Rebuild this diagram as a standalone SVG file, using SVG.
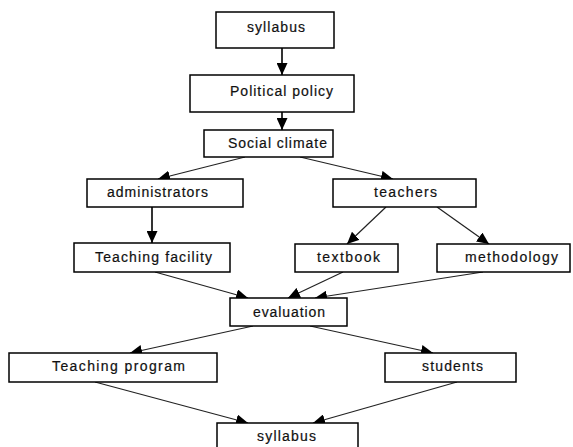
<svg xmlns="http://www.w3.org/2000/svg" width="573" height="447" viewBox="0 0 573 447">
<style>
.box{fill:#fff;stroke:#000;stroke-width:1.5}
.lbl{font-family:"Liberation Sans",Arial,sans-serif;font-size:14px;fill:#111;stroke:#111;stroke-width:0.2}
.edge{stroke:#222;stroke-width:1.2;fill:none;marker-end:url(#ah)}
.v{stroke:#000;stroke-width:1.6}
</style>
<defs>
<marker id="ah" markerUnits="userSpaceOnUse" markerWidth="12" markerHeight="11" refX="12" refY="5.5" orient="auto">
<path d="M0,0 L12,5.5 L0,11 Z" fill="#000"/>
</marker>
</defs>
<rect width="573" height="447" fill="#fff"/>
<g id="connectors">
<line class="edge v" x1="282" y1="48" x2="282" y2="75"/>
<line class="edge v" x1="282" y1="112" x2="282" y2="130"/>
<line class="edge" x1="245" y1="157" x2="158" y2="179"/>
<line class="edge" x1="300" y1="157" x2="393" y2="179"/>
<line class="edge v" x1="152" y1="207" x2="152" y2="243"/>
<line class="edge" x1="386" y1="207" x2="347" y2="244"/>
<line class="edge" x1="437" y1="207" x2="489" y2="244"/>
<line class="edge" x1="155" y1="272" x2="248" y2="298"/>
<line class="edge" x1="343" y1="272" x2="288" y2="298"/>
<line class="edge" x1="483" y1="272" x2="315" y2="298"/>
<line class="edge" x1="253" y1="326" x2="130" y2="353"/>
<line class="edge" x1="310" y1="326" x2="433" y2="353"/>
<line class="edge" x1="95" y1="382" x2="248" y2="423"/>
<line class="edge" x1="457" y1="382" x2="313" y2="423"/>
</g>
<g id="syllabus-top"><rect class="box" x="216" y="12" width="118" height="36"/><text class="lbl" x="247" y="32" textLength="58" lengthAdjust="spacing">syllabus</text></g>
<g id="political-policy"><rect class="box" x="190" y="75" width="164" height="37"/><text class="lbl" x="230" y="96" textLength="103" lengthAdjust="spacing">Political policy</text></g>
<g id="social-climate"><rect class="box" x="204" y="130" width="129" height="27"/><text class="lbl" x="228" y="148" textLength="99" lengthAdjust="spacing">Social climate</text></g>
<g id="administrators"><rect class="box" x="87" y="179" width="156" height="28"/><text class="lbl" x="107" y="197" textLength="101" lengthAdjust="spacing">administrators</text></g>
<g id="teachers"><rect class="box" x="333" y="179" width="143" height="28"/><text class="lbl" x="374" y="197" textLength="63" lengthAdjust="spacing">teachers</text></g>
<g id="teaching-facility"><rect class="box" x="74" y="243" width="156" height="29"/><text class="lbl" x="95" y="262" textLength="117" lengthAdjust="spacing">Teaching facility</text></g>
<g id="textbook"><rect class="box" x="295" y="244" width="103" height="28"/><text class="lbl" x="317" y="262" textLength="63" lengthAdjust="spacing">textbook</text></g>
<g id="methodology"><rect class="box" x="437" y="244" width="133" height="28"/><text class="lbl" x="465" y="262" textLength="93" lengthAdjust="spacing">methodology</text></g>
<g id="evaluation"><rect class="box" x="230" y="298" width="117" height="28"/><text class="lbl" x="253" y="317" textLength="72" lengthAdjust="spacing">evaluation</text></g>
<g id="teaching-program"><rect class="box" x="9" y="353" width="208" height="29"/><text class="lbl" x="52" y="371" textLength="133" lengthAdjust="spacing">Teaching program</text></g>
<g id="students"><rect class="box" x="385" y="353" width="131" height="29"/><text class="lbl" x="422" y="371" textLength="61" lengthAdjust="spacing">students</text></g>
<g id="syllabus-bottom"><rect class="box" x="217" y="423" width="141" height="30"/><text class="lbl" x="257" y="441" textLength="59" lengthAdjust="spacing">syllabus</text></g>
</svg>
